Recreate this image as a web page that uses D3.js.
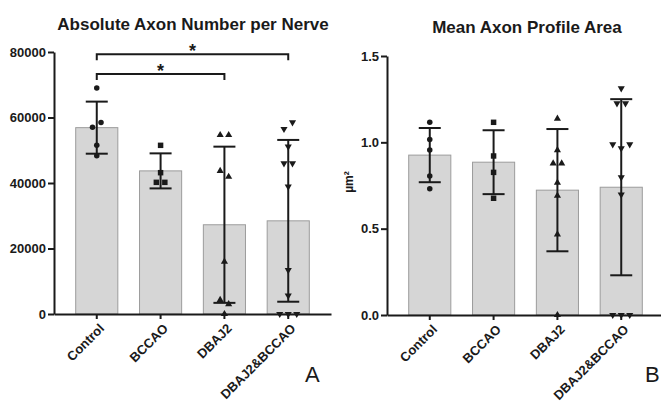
<html>

<head>
    <style>
        body { margin: 0; background: #fff; }
        text { font-family: "Liberation Sans", Arial, sans-serif; }
    </style>
</head>

<body>
    <svg id="chart"></svg>
</body>
<script src="https://cdnjs.cloudflare.com/ajax/libs/d3/7.8.5/d3.min.js"></script>
<script>
    const groups = ["Control", "BCCAO", "DBAJ2", "DBAJ2&BCCAO"];
    const shapes = [d3.symbolCircle, d3.symbolSquare, d3.symbolTriangle, d3.symbolTriangle];
    const flipped = [false, false, false, true];

    // panel A - absolute axon number
    const countMean = [56900, 43700, 27250, 28450];
    const countSD = [7950, 5350, 23850, 24700];
    const countPoints = [
        [69000, 57000, 58500, 51500, 48300],
        [51500, 43150, 40200, 40200],
        [54650, 54650, 43700, 41900, 16000, 4300, 3000, 0],
        [56500, 58500, 51100, 46000, 46000, 38900, 13400, 5600, 0, 0, 0]
    ];
    const countTicks = [0, 20000, 40000, 60000, 80000];
    const countSig = [["Control", "DBAJ2", 73300], ["Control", "DBAJ2&BCCAO", 79300]];

    // panel B - mean axon profile area
    const areaMean = [0.926, 0.885, 0.723, 0.740];
    const areaSD = [0.157, 0.185, 0.354, 0.510];
    const areaPoints = [
        [1.116, 1.017, 0.955, 0.805, 0.731],
        [1.116, 0.921, 0.826, 0.676],
        [1.137, 0.955, 0.878, 0.878, 0.766, 0.691, 0.467, 0],
        [1.313, 1.226, 1.226, 0.988, 0.965, 0.988, 0.797, 0.697, 0, 0, 0]
    ];
    const areaTicks = [0, 0.5, 1.0, 1.5];

    const svg = d3.select('#chart')
        .attr('width', 661)
        .attr('height', 402);

    const ink = '#1a1a1a';

    function panel(opts) {
        const g = svg.append('g');
        const x = d3.scaleBand()
            .domain(groups)
            .range([opts.x0, opts.x0 + 277])
            .paddingInner(0.34)
            .paddingOuter(0.34);
        const y = d3.scaleLinear()
            .domain(opts.domain)
            .range(opts.yRange);
        const cx = d => x(d) + x.bandwidth() / 2;

        // bars
        g.selectAll('rect.bar')
            .data(groups)
            .enter().append('rect')
            .attr('x', d => x(d))
            .attr('width', x.bandwidth())
            .attr('y', (d, i) => y(opts.mean[i]))
            .attr('height', (d, i) => y(0) - y(opts.mean[i]))
            .attr('fill', '#d6d6d6')
            .attr('stroke', '#9c9c9c')
            .attr('stroke-width', 1);

        // error bars
        const eb = g.selectAll('g.err')
            .data(groups)
            .enter().append('g')
            .attr('stroke', ink)
            .attr('stroke-width', 2);
        eb.append('line')
            .attr('x1', d => cx(d)).attr('x2', d => cx(d))
            .attr('y1', (d, i) => y(opts.mean[i] - opts.sd[i]))
            .attr('y2', (d, i) => y(opts.mean[i] + opts.sd[i]));
        [-1, 1].forEach(s => {
            eb.append('line')
                .attr('x1', d => cx(d) - 11).attr('x2', d => cx(d) + 11)
                .attr('y1', (d, i) => y(opts.mean[i] + s * opts.sd[i]))
                .attr('y2', (d, i) => y(opts.mean[i] + s * opts.sd[i]));
        });

        // axes
        const ya = g.append('g')
            .attr('transform', `translate(${opts.x0},0)`)
            .call(d3.axisLeft(y).tickValues(opts.ticks).tickFormat(opts.fmt).tickSize(6).tickSizeOuter(0).tickPadding(2));
        const xa = g.append('g')
            .attr('transform', `translate(0,${y(0)})`)
            .call(d3.axisBottom(x).tickSize(5).tickSizeOuter(0));
        [ya, xa].forEach(a => {
            a.select('.domain').attr('stroke', ink).attr('stroke-width', 2);
            a.selectAll('.tick line').attr('stroke', ink).attr('stroke-width', 2);
            a.selectAll('text').attr('fill', ink).attr('font-weight', 'bold')
                .style('font-family', '"Liberation Sans", Arial, sans-serif');
        });
        ya.selectAll('text').attr('font-size', 13);
        xa.selectAll('text')
            .attr('font-size', 13)
            .attr('text-anchor', 'end')
            .attr('x', 0).attr('y', 0).attr('dy', '0.35em')
            .attr('transform', 'translate(5,12) rotate(-45)');

        // points, dodged sideways where they overlap
        opts.points.forEach((vals, gi) => {
            const idx = vals.map((v, i) => i).sort((a, b) => vals[b] - vals[a]);
            const clusters = [];
            idx.forEach(i => {
                const last = clusters[clusters.length - 1];
                if (last && Math.abs(y(vals[i]) - y(vals[last[last.length - 1]])) < 7) last.push(i);
                else clusters.push([i]);
            });
            clusters.forEach(c => {
                c.sort((a, b) => a - b);
                c.forEach((i, k) => {
                    const px = cx(groups[gi]) + (k - (c.length - 1) / 2) * 8.5;
                    const py = y(vals[i]);
                    const sym = d3.symbol().type(shapes[gi])
                        .size(shapes[gi] === d3.symbolTriangle ? 22 : (shapes[gi] === d3.symbolSquare ? 30 : 24));
                    g.append('path')
                        .attr('d', sym())
                        .attr('fill', ink)
                        .attr('transform', `translate(${px},${py})` + (flipped[gi] ? ' rotate(180)' : ''));
                });
            });
        });

        // significance brackets
        (opts.sig || []).forEach(s => {
            const x1 = cx(s[0]), x2 = cx(s[1]), yy = y(s[2]);
            g.append('path')
                .attr('d', `M${x1},${yy + 6}V${yy}H${x2}V${yy + 6}`)
                .attr('fill', 'none')
                .attr('stroke', ink)
                .attr('stroke-width', 2);
            g.append('text')
                .attr('x', (x1 + x2) / 2)
                .attr('y', yy + 3)
                .attr('text-anchor', 'middle')
                .attr('font-size', 18)
                .attr('font-weight', 'bold')
                .attr('fill', ink)
                .text('*');
        });

        // title and panel letter
        g.append('text')
            .attr('x', opts.titleX)
            .attr('y', opts.titleY)
            .attr('text-anchor', 'middle')
            .attr('font-size', 17)
            .attr('font-weight', 'bold')
            .attr('fill', ink)
            .text(opts.title);
        g.append('text')
            .attr('x', opts.letterX)
            .attr('y', 382)
            .attr('font-size', 22)
            .attr('fill', ink)
            .text(opts.letter);

        if (opts.ylabel) {
            g.append('text')
                .attr('transform', `translate(${opts.x0 - 34},${y(0.77)}) rotate(-90)`)
                .attr('text-anchor', 'middle')
                .attr('font-size', 12)
                .attr('font-weight', 'bold')
                .attr('fill', ink)
                .text(opts.ylabel);
        }
    }

    panel({
        x0: 54, domain: [0, 80000], yRange: [314, 52],
        mean: countMean, sd: countSD, points: countPoints,
        ticks: countTicks, fmt: d3.format('d'), sig: countSig,
        title: 'Absolute Axon Number per Nerve', titleX: 193, titleY: 30,
        letter: 'A', letterX: 305
    });

    panel({
        x0: 387, domain: [0, 1.5], yRange: [315, 56],
        mean: areaMean, sd: areaSD, points: areaPoints,
        ticks: areaTicks, fmt: d3.format('.1f'),
        title: 'Mean Axon Profile Area', titleX: 527, titleY: 33,
        letter: 'B', letterX: 645, ylabel: 'µm²'
    });
</script>

</html>
